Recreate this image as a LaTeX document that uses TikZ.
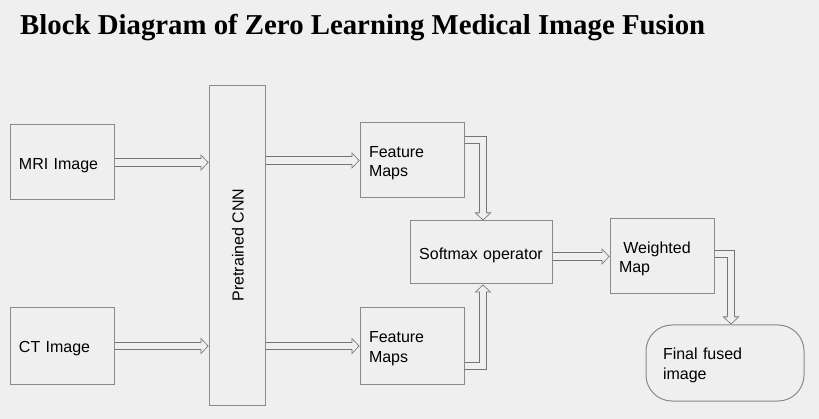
\documentclass[tikz,border=0pt]{standalone}
\usepackage{fontspec}
\setmainfont{Liberation Sans}
\newfontfamily\titlefont{Liberation Serif}
\usetikzlibrary{arrows.meta}
\definecolor{bgc}{HTML}{EFEFEF}
\definecolor{boxc}{HTML}{8A8A8A}
\definecolor{arrc}{HTML}{757575}
\pgfdeclarelayer{bottom}
\pgfdeclarelayer{arr}
\pgfsetlayers{bottom,arr,main}
\newcommand\tstrut{\rule{0pt}{16.5pt}}
\tikzset{
  box/.style={draw=boxc, line width=1pt, inner xsep=9pt, inner ysep=0pt,
    font=\fontsize{16}{19.5}\selectfont, align=left},
  fo/.style={draw=arrc, line width=8.4pt, line join=miter,
    -{Triangle[length=8pt,width=17pt,line width=0pt]}},
  fx/.style={draw=bgc, line width=6.4pt, line join=miter, shorten >=6pt},
  fi/.style={draw=bgc, line width=6.4pt, line join=miter, shorten >=1.1pt,
    -{Triangle[length=6.1pt,width=13pt,line width=0pt]}},
}
\newcommand\flexconn[1]{%
  \begin{pgfonlayer}{arr}
  \draw[fo] #1; \draw[fx] #1; \draw[fi] #1;
  \end{pgfonlayer}}
\begin{document}
\begin{tikzpicture}[x=1pt,y=-1pt]
\begin{pgfonlayer}{bottom}
\fill[bgc] (0,0) rectangle (819,419);
\end{pgfonlayer}
\useasboundingbox (0,0) rectangle (819,419);

\node[anchor=base west, inner sep=0pt, font=\titlefont\bfseries\fontsize{28.8}{34}\selectfont] (title) at (20,35)
  {Block Diagram of Zero Learning Medical Image Fusion};

\node[box, text width=86pt, minimum height=75pt] (mri) at (62,162.5) {\tstrut MRI Image};
\node[box, text width=86pt, minimum height=76pt] (ct) at (62,346) {\tstrut CT Image};
\node[box, minimum width=56pt, minimum height=319pt] (cnn) at (237,245.5) {};
\node[rotate=90, font=\fontsize{16}{19.5}\selectfont, inner sep=0pt] (cnnlabel) at (238,245) {Pretrained CNN};
\node[box, text width=86pt, minimum height=75pt] (fm1) at (412,160.5) {\tstrut Feature\\Maps};
\node[box, text width=86pt, minimum height=76pt] (fm2) at (412,346) {\tstrut Feature\\Maps};
\node[box, align=center, inner xsep=0pt, text width=142pt, minimum height=63pt] (soft) at (481,252.5) {\tstrut Softmax operator};
\node[box, text width=86pt, minimum height=75pt] (wmap) at (662,256.5) {\tstrut\hspace*{4.4pt}Weighted\\Map};
\node[box, rounded corners=26pt, inner xsep=17pt, text width=124pt, minimum height=76pt] (final) at (725,363) {\tstrut Final fused\\image};

\flexconn{(mri.east) -- (mri.east -| cnn.west)}
\flexconn{(cnn.east |- fm1.west) -- (fm1.west)}
\flexconn{(ct.east) -- (ct.east -| cnn.west)}
\flexconn{(cnn.east |- fm2.west) -- (fm2.west)}
\flexconn{([yshift=20.5pt]fm1.east) -| ([xshift=2pt]soft.north)}
\flexconn{([yshift=-20pt]fm2.east) -| ([xshift=2pt]soft.south)}
\flexconn{(soft.east |- wmap.west) -- (wmap.west)}
\flexconn{([yshift=2.5pt]wmap.east) -| ([xshift=6pt]final.north)}
\end{tikzpicture}
\end{document}
